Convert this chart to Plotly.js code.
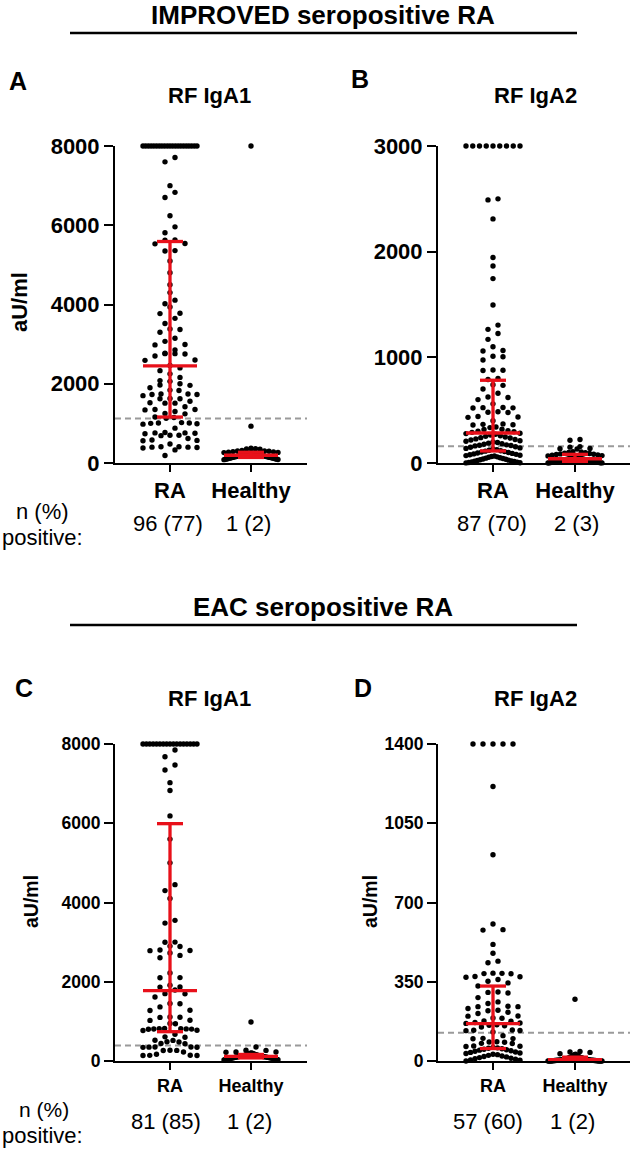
<!DOCTYPE html>
<html><head><meta charset="utf-8">
<script src="https://cdn.plot.ly/plotly-3.0.1.min.js"></script>
<style>html,body{margin:0;padding:0;background:#fff}#chart{width:635px;height:1149px}</style>
</head><body><div id="chart"></div>
<script>
// ---------------- DATA ----------------
const categories = ["RA", "Healthy"];

// Panel A: IMPROVED, RF IgA1
const A_RA = [8000,8000,8000,8000,8000,8000,8000,8000,8000,8000,8000,8000,8000,8000,8000,8000,8000,8000,8000,8000,8000,
  7710,7600,7000,6830,6700,6240,5960,5810,5630,5620,
  5540,5530,5360,5350,5100,4800,4500,4300,4110,4020,3940,3780,3770,3650,3520,3380,3370,3300,3150,3070,2990,2980,2850,2770,2760,2760,2750,2700,2600,2590,2460,
  2400,2330,2250,2160,2080,2060,2000,1970,1960,1900,1840,1830,1740,1740,1730,1730,1700,1630,1620,1620,1560,1520,1510,1510,1420,1350,1350,1340,1300,1250,1240,
  1160,1150,1130,1020,1010,1010,1000,990,980,880,770,760,760,750,740,700,700,690,620,580,570,560,480,410,410,400,400,390,380,330,190];
const A_HC = [8000,930,375,362,355,348,318,305,301,296,288,281,274,268,263,259,255,249,246,241,238,233,229,226,221,217,214,209,206,202,
  199,195,191,187,183,179,176,171,168,163,160,157,152,149,146,141,138,134,130,126,122,118,114,109,105,101,97,93,89,84];
const A_median = [2450, 195];
const A_q1 = [1160, 140];
const A_q3 = [5590, 270];
const A_positive = ["96 (77)", "1 (2)"];

// Panel B: IMPROVED, RF IgA2
const B_RA = [3000,3000,3000,3000,3000,3000,3000,3000,3000,
  2500,2490,2310,1945,1865,1745,1495,1305,1265,1225,1170,1100,1065,1060,1010,1005,975,880,878,875,800,790,
  740,735,700,660,625,620,600,560,525,524,522,520,485,480,478,440,436,432,400,370,366,362,360,340,335,320,318,305,300,296,290,
  282,278,272,265,258,252,246,240,236,228,222,217,211,206,199,194,188,183,177,172,168,165,162,154,149,143,138,132,127,121,116,
  112,108,103,99,95,91,86,82,78,74,70,66,62,58,54,50,46,42,38,35,31,27,24,20,17,14,11,8,5,3,1];
const B_HC = [222,216,155,150,138,135,132,108,104,100,97,93,90,86,83,
  80,77,74,70,67,64,60,57,54,51,48,46,44,42,41,
  39,37,35,33,31,29,27,25,24,22,21,20,18,17,16,
  14,13,12,11,10,9,8,7,6,5,4,3,2,1,0];
const B_median = [284, 40];
const B_q1 = [114, 15];
const B_q3 = [783, 82];
const B_positive = ["87 (70)", "2 (3)"];

// Panel C: EAC, RF IgA1
const C_RA = [8000,8000,8000,8000,8000,8000,8000,8000,8000,8000,8000,8000,8000,8000,8000,8000,8000,
  7850,7680,7470,7345,7025,6825,6185,
  5600,5000,4450,4300,4100,3550,3480,3000,2995,2900,2890,2800,2790,2785,2725,2665,2605,2220,2105,2100,1910,1870,1865,1790,
  1700,1695,1615,1450,1445,1365,1280,1275,1110,1105,1100,1030,1025,945,940,820,815,812,810,808,805,800,775,770,
  675,610,600,525,520,485,480,440,435,
  355,352,350,348,345,270,268,265,228,170,145,142,140,138];
const C_HC = [985,352,272,268,230,226,222,200,195,188,182,176,170,165,160,156,152,148,144,140,136,132,128,125,122,120,118,115,
  112,110,107,104,101,98,95,92,89,86,83,80,77,74,71,68,65,62,58,55,51,47,43,39,35,30,25];
const C_median = [1775, 118];
const C_q1 = [740, 78];
const C_q3 = [5990, 165];
const C_positive = ["81 (85)", "1 (2)"];

// Panel D: EAC, RF IgA2
const D_RA = [1400,1400,1400,1400,1400,1212,911,605,580,578,515,476,441,434,388,387,386,385,373,372,370,360,352,345,
  331,305,303,300,280,261,254,242,240,240,232,224,222,215,210,199,198,190,189,177,176,170,168,166,
  160,158,156,150,137,136,135,134,128,112,100,99,98,85,84,83,78,77,66,65,64,60,58,56,
  54,52,50,48,45,43,40,38,35,33,30,28,25,22,20,18,15,12,10,8,5,3,0];
const D_HC = [273,42,40,38,32,30,28,26,24,22,20,19,18,17,16,15,14,13,12,11,10,10,9,9,8,8,7,7,
  6,6,5,5,5,4,4,4,3,3,3,2,2,2,2,1,1,1,1,0,0,0,0,0,0,0,0];
const D_median = [165, 6];
const D_q1 = [55, 1];
const D_q3 = [331, 17];
const D_positive = ["57 (60)", "1 (2)"];

const cutoffs = [1120, 158, 390, 125];
const yTicks_IgA1 = [0, 2000, 4000, 6000, 8000];
const yTicks_B = [0, 1000, 2000, 3000];
const yTicks_D = [0, 350, 700, 1050, 1400];
const panelTitles = ["RF IgA1", "RF IgA2", "RF IgA1", "RF IgA2"];
const panelLetters = ["A", "B", "C", "D"];
const headings = ["IMPROVED seropositive RA", "EAC seropositive RA"];
const yLabel = "aU/ml";

// ---------------- LAYOUT HELPERS ----------------
const W = 635, H = 1149;
const FONT = "Liberation Sans, Arial, Helvetica, sans-serif";
const RED = "#e8101a";
const px = x => x / W;
const py = y => 1 - y / H;

const panels = [
  {groups:[A_RA,A_HC], med:A_median, q1:A_q1, q3:A_q3, cut:cutoffs[0], pos:A_positive, ticks:yTicks_IgA1,
   box:{l:115,r:307,t:146,b:463}, cat0:170, unit:81, tickSize:22, catSize:22, ylab:{x:19,y:302,size:22},
   letter:{x:18,y:81}, title:{x:209,y:95}, posY:523, posX:[168,248], npY:[512,537], npX:42, npSize:22},
  {groups:[B_RA,B_HC], med:B_median, q1:B_q1, q3:B_q3, cut:cutoffs[1], pos:B_positive, ticks:yTicks_B,
   box:{l:438,r:630,t:146,b:463}, cat0:493, unit:82, tickSize:22, catSize:22, ylab:null,
   letter:{x:360,y:79}, title:{x:535,y:95}, posY:523, posX:[492,576], npY:null},
  {groups:[C_RA,C_HC], med:C_median, q1:C_q1, q3:C_q3, cut:cutoffs[2], pos:C_positive, ticks:yTicks_IgA1,
   box:{l:115,r:307,t:744,b:1061}, cat0:170, unit:81, tickSize:17.5, catSize:18, ylab:{x:31,y:902,size:19.5},
   letter:{x:24,y:688}, title:{x:209,y:698}, posY:1121, posX:[166,249], npY:[1109,1135], npX:44, npSize:21},
  {groups:[D_RA,D_HC], med:D_median, q1:D_q1, q3:D_q3, cut:cutoffs[3], pos:D_positive, ticks:yTicks_D,
   box:{l:438,r:630,t:744,b:1061}, cat0:493, unit:82, tickSize:17.5, catSize:18, ylab:{x:370,y:902,size:19.5},
   letter:{x:363,y:688}, title:{x:535,y:698}, posY:1121, posX:[488,572], npY:null}
];

// Prism-like scatter-dot layout: points binned by pixel row, spread symmetrically
function swarmOffsets(vals, pxPerY, binPx, maxW, maxSp) {
  const order = vals.map((v, i) => i).sort((a, b) => vals[a] - vals[b]);
  const off = new Array(vals.length).fill(0);
  let i = 0;
  while (i < order.length) {
    let j = i + 1;
    while (j < order.length && (vals[order[j]] - vals[order[i]]) * pxPerY < binPx) j++;
    const k = j - i;
    const sp = k > 1 ? Math.min(maxSp, maxW / (k - 1)) : 0;
    const slotSeq = [];
    let lo = 0, hi = k - 1;
    while (lo <= hi) { slotSeq.push(lo++); if (lo <= hi) slotSeq.push(hi--); }
    for (let m = 0; m < k; m++) off[order[i + m]] = (slotSeq[m] - (k - 1) / 2) * sp;
    i = j;
  }
  return off;
}

const traces = [];
const layout = {
  width: W, height: H, margin: {l:0, r:0, t:0, b:0},
  paper_bgcolor: "#fff", plot_bgcolor: "rgba(0,0,0,0)", showlegend: false,
  annotations: [], shapes: []
};

panels.forEach((p, k) => {
  const n = k + 1;
  const xa = "x" + (n === 1 ? "" : n), ya = "y" + (n === 1 ? "" : n);
  const xr = [(p.box.l - p.cat0) / p.unit, (p.box.r - p.cat0) / p.unit];
  const ymax = p.ticks[p.ticks.length - 1];
  const pxPerY = (p.box.b - p.box.t) / ymax;

  layout["xaxis" + (n === 1 ? "" : n)] = {
    domain: [px(p.box.l), px(p.box.r)], range: xr, anchor: ya, fixedrange: true,
    tickmode: "array", tickvals: [0, 1], ticktext: categories,
    ticks: "outside", ticklen: 7, tickwidth: 2, tickcolor: "#000",
    showline: true, linewidth: 2, linecolor: "#000", showgrid: false, zeroline: false,
    tickfont: {family: FONT, size: p.catSize, color: "#000", weight: 700}
  };
  layout["yaxis" + (n === 1 ? "" : n)] = {
    domain: [py(p.box.b), py(p.box.t)], range: [0, ymax], anchor: xa, fixedrange: true,
    tickmode: "array", tickvals: p.ticks, ticktext: p.ticks.map(String),
    ticks: "outside", ticklen: 9, tickwidth: 2, tickcolor: "#000",
    showline: true, linewidth: 2, linecolor: "#000", showgrid: false, zeroline: false,
    tickfont: {family: FONT, size: p.tickSize, color: "#000", weight: 700}
  };

  // cutoff dashed line
  traces.push({type: "scatter", mode: "lines", xaxis: xa, yaxis: ya, x: xr, y: [p.cut, p.cut],
    line: {color: "#9a9a9a", width: 2, dash: "6px,4px"}, hoverinfo: "skip"});

  // dots
  p.groups.forEach((vals, g) => {
    const off = swarmOffsets(vals, pxPerY, 7, 54, 10);
    traces.push({type: "scatter", mode: "markers", xaxis: xa, yaxis: ya, cliponaxis: false,
      x: vals.map((v, i) => g + off[i] / p.unit), y: vals,
      marker: {color: "#000", size: 5.4, line: {width: 0}}, hoverinfo: "skip"});
  });

  // median + IQR
  const mh = 27 / p.unit, ch = 13 / p.unit;
  const ex = [], ey = [];
  [0, 1].forEach(g => {
    ex.push(g - mh, g + mh, null, g - ch, g + ch, null, g - ch, g + ch, null, g, g, null);
    ey.push(p.med[g], p.med[g], null, p.q1[g], p.q1[g], null, p.q3[g], p.q3[g], null, p.q1[g], p.q3[g], null);
  });
  traces.push({type: "scatter", mode: "lines", xaxis: xa, yaxis: ya, x: ex, y: ey, cliponaxis: false,
    line: {color: RED, width: 3.3}, hoverinfo: "skip"});

  const ann = (text, x, y, size, bold, extra) => layout.annotations.push(Object.assign({
    text: text, xref: "paper", yref: "paper", x: px(x), y: py(y), xanchor: "center", yanchor: "middle",
    showarrow: false, font: {family: FONT, size: size, color: "#000", weight: bold ? 700 : 400}
  }, extra || {}));

  ann(panelLetters[k], p.letter.x, p.letter.y, 25, true);
  ann(panelTitles[k], p.title.x, p.title.y, 22, true);
  if (p.ylab) ann(yLabel, p.ylab.x, p.ylab.y, p.ylab.size, true, {textangle: -90});
  ann(p.pos[0], p.posX[0], p.posY, 22, false);
  ann(p.pos[1], p.posX[1], p.posY, 22, false);
  if (p.npY) {
    ann("n (%)", p.npX, p.npY[0], p.npSize, false);
    ann("positive:", 42, p.npY[1], 22, false);
  }
});

// section headings
[[headings[0], 15, 33], [headings[1], 607, 625]].forEach(h => {
  layout.annotations.push({text: h[0], xref: "paper", yref: "paper", x: px(323), y: py(h[1]),
    xanchor: "center", yanchor: "middle", showarrow: false,
    font: {family: FONT, size: 26, color: "#000", weight: 700}});
  layout.shapes.push({type: "line", xref: "paper", yref: "paper", x0: px(70), x1: px(577),
    y0: py(h[2]), y1: py(h[2]), line: {color: "#000", width: 2.5}});
});

Plotly.newPlot("chart", traces, layout, {displayModeBar: false, staticPlot: true});
</script>
</body></html>
